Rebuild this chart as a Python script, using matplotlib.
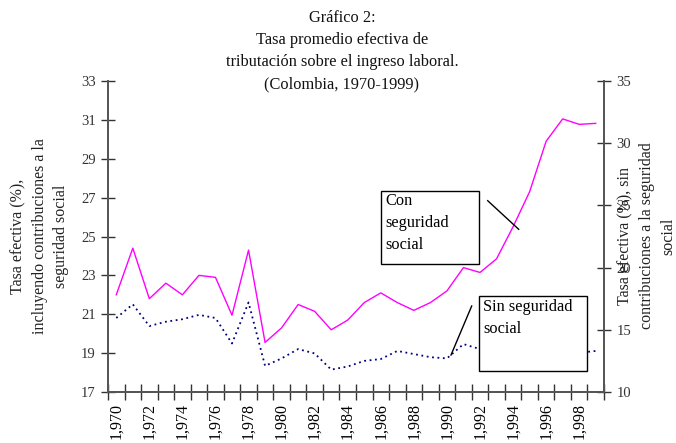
import matplotlib
matplotlib.use("Agg")
import matplotlib.pyplot as plt
from matplotlib.patches import Rectangle
from matplotlib.lines import Line2D
from matplotlib.ticker import FixedLocator, FixedFormatter

years = list(range(1970, 2000))
con_ss = [22.0, 24.4, 21.8, 22.6, 22.0, 23.0, 22.9, 20.95, 24.3, 19.55,
          20.3, 21.5, 21.15, 20.2, 20.7, 21.6, 22.1, 21.6, 21.2, 21.6,
          22.2, 23.4, 23.15, 23.85, 25.5, 27.3, 29.9, 31.05, 30.77, 30.82]
sin_ss = [15.95, 17.05, 15.3, 15.65, 15.85, 16.2, 15.95, 13.9, 17.2, 12.1,
          12.7, 13.45, 13.1, 11.8, 12.05, 12.5, 12.65, 13.3, 13.05, 12.8,
          12.7, 13.85, 13.45, 13.3, 13.2, 13.25, 13.2, 13.15, 13.15, 13.3]
left_ticks = [17, 19, 21, 23, 25, 27, 29, 31, 33]
right_ticks = [10, 15, 20, 25, 30, 35]
year_labels = ["{:,}".format(y) for y in years]

plt.rcParams['font.family'] = ['Liberation Serif', 'DejaVu Serif']
W, H = 676, 443
fig = plt.figure(figsize=(W / 100, H / 100), dpi=100)
ax = fig.add_axes([108 / W, 1 - 392 / H, 496 / W, 311 / H])
ax2 = ax.twinx()

x = list(range(len(years)))
ax.plot(x, con_ss, color='#FF00FF', lw=1.0, zorder=3)
ax2.plot(x, sin_ss, color='#000080', lw=1.3, linestyle=(0, (1, 2)), zorder=3)

ax.set_xlim(-0.5, len(years) - 0.5)
ax.set_ylim(17, 33)
ax2.set_ylim(10, 35)
ax.set_yticks(left_ticks)
ax2.set_yticks(right_ticks)

# x ticks: marks at boundaries, labels at centers every other year
ax.xaxis.set_major_locator(FixedLocator([i - 0.5 for i in range(len(years) + 1)]))
ax.xaxis.set_major_formatter(FixedFormatter([''] * (len(years) + 1)))
ax.xaxis.set_minor_locator(FixedLocator(x[::2]))
ax.xaxis.set_minor_formatter(FixedFormatter(year_labels[::2]))
ax.tick_params(axis='x', which='minor', length=0, labelsize=11.5, rotation=90, pad=8)
ax.tick_params(axis='x', which='major', direction='inout', length=11, width=1, color='#333333')

spine_c = '#555555'
for a in (ax, ax2):
    a.spines['top'].set_visible(False)
    for s in ('left', 'right', 'bottom'):
        a.spines[s].set_color(spine_c)
        a.spines[s].set_linewidth(1.3)
ax.tick_params(axis='y', direction='inout', length=10, width=1, color='#333333', labelsize=10.5, labelcolor='#333333', pad=4)
ax2.tick_params(axis='y', direction='inout', length=10, width=1, color='#333333', labelsize=10.5, labelcolor='#333333', pad=4)
ax.tick_params(axis='x', labelcolor='#333333')

# Title
fig.text(342 / W, 1 - 10 / H,
         "Gráfico 2:\nTasa promedio efectiva de\ntributación sobre el ingreso laboral.\n(Colombia, 1970-1999)",
         ha='center', va='top', fontsize=11.8, linespacing=1.5, color='#111111')

# axis labels
fig.text(40 / W, 1 - 236 / H,
         "Tasa efectiva (%),\nincluyendo contribuciones a la\nseguridad social",
         rotation=90, ha='center', va='center', fontsize=11.5, linespacing=1.45, color='#222222')
fig.text(647 / W, 1 - 236 / H,
         "Tasa efectiva (%), sin\ncontribuciones a la seguridad\nsocial",
         rotation=90, ha='center', va='center', fontsize=11.5, linespacing=1.45, color='#222222')

# annotation boxes
def fx(px):
    return (px - 108) / 496

def fy(py):
    return (392 - py) / 311

r1 = Rectangle((fx(380.7), fy(264)), fx(479) - fx(380.7), fy(190.7) - fy(264),
               transform=ax2.transAxes, facecolor='white', edgecolor='black', lw=1, zorder=5)
ax2.add_patch(r1)
ax2.text(fx(385), fy(193), "Con\nseguridad\nsocial", transform=ax2.transAxes,
         ha='left', va='top', fontsize=11.8, linespacing=1.5, zorder=6)
ax2.add_line(Line2D([fx(487.7), fx(518.7)], [fy(200.7), fy(229.3)], transform=ax2.transAxes,
                    color='black', lw=1, zorder=6))

r2 = Rectangle((fx(479.3), fy(370.7)), fx(586.7) - fx(479.3), fy(296) - fy(370.7),
               transform=ax2.transAxes, facecolor='white', edgecolor='black', lw=1, zorder=5)
ax2.add_patch(r2)
ax2.text(fx(483), fy(299), "Sin seguridad\nsocial", transform=ax2.transAxes,
         ha='left', va='top', fontsize=11.8, linespacing=1.5, zorder=6)
ax2.add_line(Line2D([fx(471.7), fx(451)], [fy(306), fy(355)], transform=ax2.transAxes,
                    color='black', lw=1, zorder=6))

fig.savefig("out.png", dpi=100)
